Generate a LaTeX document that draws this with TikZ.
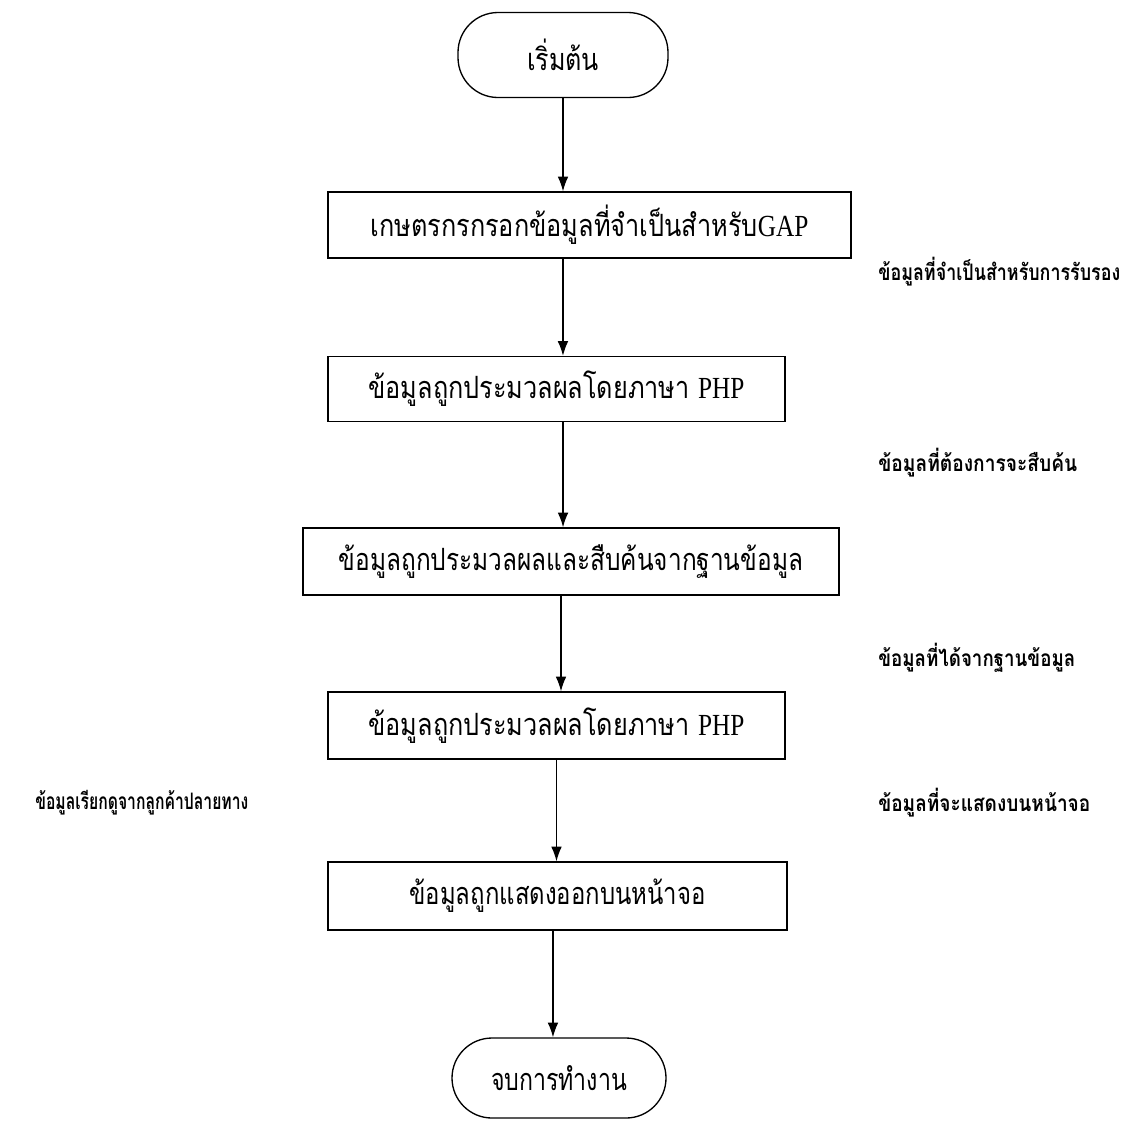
\documentclass[tikz,border=0pt]{standalone}
\usepackage{fontspec}
\setmainfont{Liberation Serif}
\newfontfamily\thai[Script=Thai]{Loma}
\usetikzlibrary{arrows.meta,positioning}
\newcommand{\fitw}[2]{\resizebox{#1}{\height}{#2}}
\begin{document}
\begin{tikzpicture}[x=0.75pt,y=-0.75pt,
  box/.style={draw,line width=1pt,inner sep=0pt,font=\fontsize{23pt}{27pt}\selectfont},
  term/.style={draw,line width=1pt,rounded corners=30pt,inner sep=0pt,font=\fontsize{23pt}{27pt}\selectfont},
  side/.style={inner sep=0pt,anchor=west,font=\thai\bfseries\fontsize{17pt}{19pt}\selectfont},
  arr/.style={-{Latex[length=11pt,width=8pt]},line width=1pt}]
\useasboundingbox (0,0) rectangle (1142,1122);
\node[term,minimum width=157.5pt,minimum height=63.75pt] (start) at (563,55) {\fitw{54pt}{\thai เริ่มต้น}};
\node[box,minimum width=392.25pt,minimum height=49.5pt] (b1) at (589.5,225) {\fitw{328.5pt}{\thai เกษตรกรกรอกข้อมูลที่จำเป็นสำหรับ\rmfamily GAP}};
\node[box,minimum width=342.75pt,minimum height=48.75pt] (b2) at (556.5,389) {\fitw{282pt}{\thai ข้อมูลถูกประมวลผลโดยภาษา \rmfamily PHP}};
\node[box,minimum width=402pt,minimum height=50.25pt] (b3) at (571,561.5) {\fitw{348pt}{\thai ข้อมูลถูกประมวลผลและสืบค้นจากฐานข้อมูล}};
\node[box,minimum width=342.75pt,minimum height=50.25pt] (b4) at (556.5,725.5) {\fitw{282pt}{\thai ข้อมูลถูกประมวลผลโดยภาษา \rmfamily PHP}};
\node[box,minimum width=344.25pt,minimum height=51pt] (b5) at (557.5,896) {\fitw{222pt}{\thai ข้อมูลถูกแสดงออกบนหน้าจอ}};
\node[term,minimum width=160.5pt,minimum height=60pt] (end) at (559,1078) {\fitw{102pt}{\thai จบการทำงาน}};
\node[side] (l1) at (878,272) {\fitw{181.5pt}{ข้อมูลที่จำเป็นสำหรับการรับรอง}};
\node[side] (l2) at (878,463) {\fitw{149.25pt}{ข้อมูลที่ต้องการจะสืบค้น}};
\node[side] (l3) at (878,658) {\fitw{147.75pt}{ข้อมูลที่ได้จากฐานข้อมูล}};
\node[side] (l4) at (878,803) {\fitw{159pt}{ข้อมูลที่จะแสดงบนหน้าจอ}};
\node[side] (l5) at (35,803) {\fitw{159.75pt}{ข้อมูลเรียกดูจากลูกค้าปลายทาง}};
\draw[arr] (start.south) -- (start.south |- b1.north);
\draw[arr] ([xshift=-19.9pt]b1.south) -- ([xshift=-19.9pt]b1.south |- b2.north);
\draw[arr] ([xshift=4.9pt]b2.south) -- ([xshift=4.9pt]b2.south |- b3.north);
\draw[arr] ([xshift=-7.5pt]b3.south) -- ([xshift=-7.5pt]b3.south |- b4.north);
\draw[arr] (b4.south) -- (b4.south |- b5.north);
\draw[arr] ([xshift=-3.4pt]b5.south) -- ([xshift=-3.4pt]b5.south |- end.north);
\end{tikzpicture}
\end{document}
